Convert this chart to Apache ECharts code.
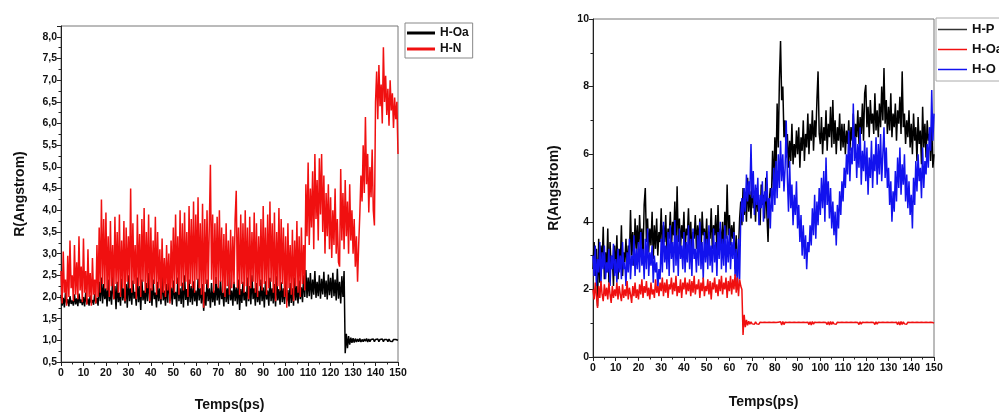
<!DOCTYPE html>
<html><head><meta charset="utf-8">
<script src="https://cdn.jsdelivr.net/npm/echarts@6/dist/echarts.min.js"></script>
<style>html,body{margin:0;padding:0;background:#fff}#c{width:999px;height:417px}</style>
</head><body><div id="c"></div><script>
// sampling step of the time axis (ps)
const STEP = 0.5;
const xTicks = [0,10,20,30,40,50,60,70,80,90,100,110,120,130,140,150];

// Left chart: H-Oa (black)
const leftOa = [
2.05,1.8,1.98,1.76,2.1,1.85,1.95,1.78,2.02,1.84,1.92,1.8,2.06,1.83,1.97,1.79,2.08,1.86,1.94,1.81,
2.0,1.78,2.1,1.84,1.96,1.8,2.04,1.86,1.93,1.82,2.07,1.85,1.98,1.8,2.35,1.9,2.45,1.85,2.3,1.95,
2.2,1.78,2.4,1.9,2.15,1.82,2.5,1.95,2.25,1.72,2.35,1.88,2.1,1.8,2.42,1.92,2.2,1.85,2.3,1.75,
2.5,1.9,2.2,1.82,2.38,1.96,2.12,1.8,2.45,1.88,2.25,1.7,2.4,1.92,2.15,1.84,2.32,1.9,2.55,1.86,
2.2,1.8,2.4,1.95,2.1,1.76,2.35,1.9,2.2,1.83,2.48,1.92,2.15,1.8,2.3,1.87,2.56,1.9,2.22,1.82,
2.38,1.95,2.12,1.78,2.45,1.9,2.2,1.84,2.33,1.76,2.5,1.93,2.18,1.8,2.4,1.88,2.25,1.82,2.36,1.9,
2.15,1.79,2.42,1.92,2.2,1.85,2.3,1.68,2.12,1.8,2.4,1.9,2.2,1.75,2.32,1.88,2.15,1.8,2.46,1.92,
2.24,1.82,2.38,1.95,2.1,1.78,2.42,1.88,2.2,1.84,2.52,1.92,2.15,1.8,2.35,1.9,2.22,1.83,2.4,1.7,
2.18,1.86,2.35,1.92,2.12,1.78,2.45,1.9,2.25,1.83,2.5,1.95,2.2,1.8,2.32,1.88,2.14,1.82,2.4,1.9,
2.22,1.76,2.36,1.94,2.15,1.8,2.44,1.9,2.2,1.85,2.3,1.78,2.48,1.92,2.18,1.82,2.34,1.88,2.2,1.84,
2.4,1.9,2.16,1.78,2.32,1.86,2.2,1.8,2.45,1.92,2.25,1.85,2.38,1.95,2.22,1.88,2.5,2.0,2.62,1.98,
2.45,2.02,2.55,1.95,2.4,2.05,2.6,1.98,2.35,2.02,2.5,1.96,2.42,2.06,2.58,2.0,2.38,1.94,2.52,2.04,
2.44,1.98,2.56,2.02,2.4,1.92,2.65,1.96,2.35,1.85,2.48,2.0,2.6,0.7,1.15,0.82,1.1,0.9,1.06,0.94,
1.05,0.95,1.04,0.96,1.03,0.97,1.04,0.96,1.02,0.97,1.03,0.98,1.04,0.96,1.03,0.97,1.02,0.98,1.03,0.97,
1.02,0.98,1.03,0.97,1.02,0.98,1.03,0.97,1.02,0.98,1.02,0.97,1.03,0.98,1.02,0.97,1.02,0.98,1.02,0.98,
1.0];

// Left chart: H-N (red)
const leftN = [
2.6,1.85,3.05,2.1,2.4,1.8,2.95,2.0,3.3,2.2,2.5,1.9,3.2,2.05,2.8,1.95,3.4,2.15,2.7,1.88,
3.35,2.1,2.6,1.82,3.1,2.0,2.55,1.8,2.9,2.05,2.4,1.85,3.2,2.0,3.6,2.1,4.25,2.3,3.8,2.2,
3.95,2.15,3.4,2.0,3.75,2.25,3.2,1.95,3.85,2.3,3.5,2.1,3.9,2.0,3.3,2.2,3.75,1.9,3.6,2.35,
3.4,2.2,4.5,2.1,3.7,2.3,3.2,1.95,3.9,2.25,3.45,2.0,3.8,2.35,4.05,2.1,3.5,2.2,3.9,1.9,
3.6,2.15,3.3,2.3,3.85,2.05,3.5,2.2,3.1,1.95,3.35,2.1,2.9,2.0,3.2,2.15,3.0,1.85,3.3,2.2,
3.6,2.1,3.9,2.3,3.4,2.05,4.0,2.25,3.7,2.15,3.95,2.35,3.5,2.0,4.1,2.3,3.8,2.2,4.2,2.1,
3.9,2.4,4.3,2.2,3.7,2.05,4.15,1.75,3.8,2.3,4.0,2.2,3.6,5.05,2.4,3.9,2.1,3.7,2.3,3.85,
2.2,4.0,2.35,3.6,2.1,3.45,2.0,3.7,2.25,3.3,2.05,3.55,2.2,3.4,2.3,3.8,4.45,2.2,3.6,2.05,
3.9,2.3,3.7,2.1,4.0,2.25,3.6,1.95,3.85,2.2,3.5,2.35,3.95,2.1,3.7,2.0,3.4,2.25,3.8,2.15,
4.1,2.3,3.6,2.05,3.9,2.2,4.2,2.35,3.7,2.1,3.95,1.9,3.5,2.25,4.05,2.15,3.8,2.3,3.6,2.0,
3.4,1.75,3.7,2.2,3.2,2.05,3.55,1.9,3.3,2.25,3.75,2.1,3.4,2.0,3.6,2.3,3.2,2.15,4.6,3.4,
5.1,3.2,4.5,3.6,4.9,3.1,5.3,3.8,4.7,3.3,5.2,3.9,5.3,3.5,4.8,3.0,4.4,3.4,4.6,3.1,
4.3,2.9,4.0,3.2,4.5,3.0,3.8,2.8,2.7,4.95,3.3,4.4,3.1,4.7,3.4,4.2,3.0,4.6,3.3,4.0,
3.0,3.8,2.7,3.4,2.35,3.2,3.9,4.8,4.2,5.5,4.4,6.15,4.6,5.3,3.95,5.0,4.3,5.4,4.0,3.65,
6.5,7.2,6.1,7.35,6.4,6.9,6.0,7.76,6.5,7.1,6.2,6.8,5.95,7.0,6.3,6.7,5.9,6.6,6.1,6.5,
5.3];

// Right chart: H-P (black)
const rightP = [
2.6,3.4,2.4,3.2,1.5,3.5,2.2,3.3,2.7,3.85,2.3,3.1,2.5,3.8,2.2,3.4,2.6,3.0,2.1,3.3,
2.5,3.6,2.3,3.2,2.7,3.9,2.4,3.1,2.8,3.5,2.6,3.3,2.9,4.35,3.0,3.7,2.7,4.1,3.2,3.9,
3.0,4.2,3.3,3.8,2.9,4.5,5.0,3.4,4.1,3.1,3.8,3.3,4.3,2.9,3.9,3.2,4.1,3.0,3.7,3.4,
4.4,3.1,3.9,3.4,4.2,3.0,3.8,3.5,4.3,3.2,4.0,3.6,4.6,3.3,5.05,3.4,4.1,3.2,3.9,3.5,
4.3,3.1,3.8,3.6,4.4,3.3,4.0,3.0,3.7,3.5,4.2,3.2,3.9,3.4,4.1,2.9,4.3,3.6,3.8,3.3,
4.1,3.0,3.7,3.5,4.4,3.2,3.9,3.6,4.2,3.1,4.5,3.4,3.8,3.3,4.0,3.0,4.3,3.5,5.1,3.6,
4.2,3.3,3.9,3.5,4.0,2.6,3.6,2.4,3.2,4.1,4.6,3.9,5.0,4.2,4.8,4.0,5.3,4.3,4.9,4.1,
5.2,4.4,4.8,4.0,5.0,4.3,4.6,3.9,5.1,4.5,4.8,4.1,5.3,4.2,3.4,4.6,5.0,4.7,6.1,5.0,
6.5,5.5,7.5,6.2,8.2,9.35,7.6,8.0,6.5,7.0,5.9,6.6,5.6,6.4,5.8,6.9,5.7,6.3,5.9,6.7,
6.0,6.8,5.6,6.5,6.1,7.0,5.8,6.6,6.2,7.2,6.0,6.9,6.4,7.3,6.1,7.0,6.5,7.6,8.45,6.6,
6.3,7.1,6.0,6.8,6.4,7.3,6.1,6.9,6.5,7.4,6.2,7.6,6.3,7.0,6.0,6.8,6.4,7.2,6.1,6.9,
6.2,6.9,6.0,6.7,6.3,7.0,6.1,6.8,6.4,7.2,6.2,6.9,6.5,7.3,6.3,7.1,6.6,7.5,6.4,7.8,
8.05,6.8,7.4,6.5,7.6,6.9,7.2,6.6,7.8,6.7,7.3,6.5,7.5,6.8,8.0,7.0,8.55,6.9,7.6,6.6,
7.4,6.7,7.8,6.5,7.2,6.8,7.5,6.4,7.3,6.9,7.7,6.6,8.45,6.8,7.2,6.3,7.0,6.5,7.3,6.2,
6.9,6.0,7.2,6.4,6.8,5.8,7.1,6.3,6.7,5.7,7.4,6.2,6.9,5.9,7.0,6.4,6.6,5.8,6.9,5.6,
6.0];

// Right chart: H-O (blue)
const rightO = [
3.0,2.4,3.3,2.1,2.9,2.5,3.4,2.2,3.1,2.6,3.3,2.3,2.8,2.5,3.2,2.1,3.0,2.6,3.35,2.4,
2.9,2.2,3.2,2.5,3.0,2.3,3.4,2.6,2.8,2.1,3.1,2.5,3.5,2.3,3.0,2.7,3.6,2.4,3.2,2.6,
3.4,2.5,3.7,2.7,3.2,2.3,3.5,2.6,3.8,2.4,3.1,2.7,3.3,2.2,3.0,2.5,2.8,2.0,2.6,2.3,
3.5,2.5,4.0,2.8,3.3,2.6,3.7,2.4,3.9,2.9,3.4,2.5,4.05,2.7,3.6,2.4,3.8,2.9,3.3,2.6,
3.7,2.5,3.4,2.8,3.9,2.6,3.5,2.4,3.8,2.9,3.2,2.5,3.6,2.7,4.0,2.6,3.4,2.3,3.7,2.8,
3.5,2.6,3.9,2.7,3.3,2.5,3.8,2.8,3.4,2.4,3.7,2.9,4.0,2.6,3.5,2.7,3.9,2.5,3.6,2.8,
3.8,2.6,3.4,2.9,3.7,2.4,3.2,2.0,3.5,2.3,4.2,4.7,4.0,5.0,4.3,5.4,4.6,5.2,4.8,6.3,
4.7,5.5,4.2,5.1,4.5,5.3,3.9,4.8,4.4,5.2,4.0,4.9,4.6,5.5,4.1,4.7,3.8,5.0,4.3,5.6,
4.5,5.8,4.7,6.0,5.0,6.4,5.2,6.0,4.9,5.6,7.0,5.3,4.3,5.8,4.4,5.1,3.9,4.8,4.2,5.2,
3.8,4.5,3.4,4.2,3.0,3.9,2.9,3.6,2.6,3.4,3.1,3.9,3.3,4.4,3.6,4.8,3.5,4.6,3.9,5.0,
4.2,5.3,4.4,5.5,4.0,5.9,4.5,5.2,4.1,5.0,3.8,4.6,3.6,4.3,3.3,4.5,3.8,4.9,4.2,5.2,
4.6,5.6,5.0,6.0,5.4,6.7,5.2,6.2,5.7,7.5,5.8,6.5,5.3,6.3,5.6,6.8,5.1,6.1,5.5,6.4,
5.2,6.2,4.8,5.9,5.3,6.4,5.0,6.0,5.5,6.5,5.1,6.3,5.4,6.6,5.2,6.0,6.8,5.3,6.2,5.0,
5.6,4.5,5.2,4.0,4.9,4.3,5.5,4.6,5.9,5.0,6.2,4.8,5.7,5.1,6.0,4.6,5.4,4.4,5.2,4.2,
4.8,3.8,5.3,4.5,5.8,4.9,6.0,5.2,5.6,4.7,6.2,5.0,5.8,5.4,6.3,5.6,6.8,6.1,7.9,6.4,
7.2];

// Right chart: H-Oa (red)
const rightOa = [
2.0,1.7,2.2,1.8,1.45,2.1,1.75,2.25,1.85,1.65,2.15,1.8,2.05,1.7,2.2,1.85,1.6,2.1,1.75,2.0,
1.8,2.2,1.7,2.1,1.85,1.65,2.15,1.75,2.0,1.8,2.25,1.7,2.05,1.85,1.6,2.1,1.8,2.2,1.75,2.0,
1.7,2.15,1.85,2.3,1.75,2.1,1.9,2.25,1.8,2.05,1.7,2.2,1.85,2.0,1.75,2.3,1.9,2.1,1.8,2.2,
1.95,2.35,1.8,2.2,1.9,2.3,1.75,2.15,2.0,2.35,1.85,2.2,1.95,2.4,1.8,2.1,1.9,2.3,1.75,2.2,
2.0,2.35,1.85,2.2,1.95,2.3,1.8,2.25,1.9,2.4,1.85,2.15,2.0,2.3,1.75,2.2,1.95,2.35,1.8,2.1,
1.95,2.3,1.85,2.25,1.7,2.2,2.0,2.35,1.9,2.15,1.8,2.3,1.95,2.4,1.85,2.2,2.0,2.35,1.75,2.25,
1.95,2.4,1.85,2.3,2.0,2.45,1.9,2.35,1.8,2.3,2.1,2.0,0.65,1.25,0.88,1.1,0.94,1.06,0.97,1.04,
0.98,1.03,0.97,1.04,0.98,1.02,0.97,1.03,0.98,1.02,0.97,1.03,0.98,1.02,0.97,1.03,0.98,1.02,0.97,1.03,
0.98,1.02,0.97,1.03,0.98,1.04,0.95,1.05,0.96,1.03,0.98,1.02,0.97,1.03,0.98,1.02,0.97,1.03,0.98,1.02,
0.97,1.03,0.98,1.02,0.97,1.03,0.98,1.02,0.97,1.03,0.96,1.04,0.95,1.05,0.97,1.03,0.98,1.02,0.97,1.03,
0.98,1.02,0.97,1.03,0.98,1.02,0.96,1.04,0.95,1.05,0.96,1.04,0.98,1.02,0.97,1.03,0.98,1.02,0.97,1.03,
0.98,1.02,0.97,1.03,0.98,1.02,0.97,1.03,0.98,1.02,0.97,1.03,0.98,1.02,0.96,1.04,0.97,1.03,0.98,1.02,
0.97,1.03,0.98,1.02,0.97,1.03,0.98,1.02,0.96,1.04,0.97,1.03,0.98,1.02,0.97,1.03,0.98,1.02,0.97,1.03,
0.98,1.02,0.97,1.03,0.98,1.02,0.97,1.03,0.96,1.04,0.95,1.05,0.96,1.04,0.98,1.02,0.97,1.03,0.98,1.02,
0.97,1.03,0.98,1.02,0.97,1.03,0.98,1.02,0.97,1.03,0.98,1.02,0.97,1.03,0.98,1.02,0.97,1.03,0.98,1.02,
1.0];

const RED = '#f01010', BLUE = '#1212ee', BLACK = '#000000';
const NARROW = '"Liberation Sans Narrow","Liberation Sans",Arial,sans-serif';
const SANS = '"Liberation Sans",Arial,sans-serif';

function pairs(arr) { return arr.map((v, i) => [i * STEP, v]); }
const comma = v => v.toFixed(1).replace('.', ',');

function xAxisCfg(gi, gap) {
  return {
    type: 'value', gridIndex: gi, min: xTicks[0], max: xTicks[xTicks.length - 1], interval: 10,
    name: 'Temps(ps)', nameLocation: 'middle', nameGap: gap,
    nameTextStyle: { fontFamily: NARROW, fontWeight: 'bold', fontSize: 14, color: '#111' },
    axisLine: { show: true, onZero: false, lineStyle: { color: '#222', width: 1 } },
    axisTick: { show: true, inside: false, length: 4, lineStyle: { color: '#222' } },
    minorTick: { show: true, splitNumber: 2, length: 2.5, lineStyle: { color: '#222' } },
    splitLine: { show: false },
    axisLabel: { fontFamily: NARROW, fontWeight: 'bold', fontSize: 10.5, color: '#111', margin: 6 }
  };
}
function yAxisCfg(gi, min, max, interval, fmt, gap, showMax) {
  return {
    type: 'value', gridIndex: gi, min: min, max: max, interval: interval,
    name: 'R(Angstrom)', nameLocation: 'middle', nameGap: gap,
    nameTextStyle: { fontFamily: SANS, fontWeight: 'bold', fontSize: 14, color: '#111' },
    axisLine: { show: true, onZero: false, lineStyle: { color: '#222', width: 1 } },
    axisTick: { show: true, inside: false, length: 4, lineStyle: { color: '#222' } },
    minorTick: { show: true, splitNumber: 2, length: 2.5, lineStyle: { color: '#222' } },
    splitLine: { show: false },
    axisLabel: { fontFamily: NARROW, fontWeight: 'bold', fontSize: 10.5, color: '#111', margin: 4,
                 formatter: fmt, showMaxLabel: showMax }
  };
}
function line(name, data, color, xi, yi, z) {
  return { type: 'line', name: name, xAxisIndex: xi, yAxisIndex: yi, data: pairs(data),
           symbol: 'none', showSymbol: false, z: z,
           lineStyle: { color: color, width: 1.5 }, itemStyle: { color: color } };
}

const chart = echarts.init(document.getElementById('c'), null, { renderer: 'canvas' });
chart.setOption({
  animation: false,
  backgroundColor: '#ffffff',
  grid: [
    { left: 61, top: 26, width: 337, height: 339, show: true, borderColor: '#777', borderWidth: 1, backgroundColor: 'transparent' },
    { left: 593, top: 19, width: 341, height: 338, show: true, borderColor: '#777', borderWidth: 1, backgroundColor: 'transparent' }
  ],
  xAxis: [xAxisCfg(0, 36), xAxisCfg(1, 38)],
  yAxis: [
    yAxisCfg(0, 0.5, 8.25, 0.5, comma, 34, false),
    yAxisCfg(1, 0, 10, 2, v => String(v), 32, true)
  ],
  legend: [
    { orient: 'vertical', left: 405, top: 23, selectedMode: false,
      itemWidth: 28, itemHeight: 3, itemGap: 4, padding: [4, 4, 3, 2],
      borderColor: '#888', borderWidth: 1,
      textStyle: { fontFamily: NARROW, fontWeight: 'bold', fontSize: 12, color: '#111' },
      data: [
        { name: 'H-Oa', icon: 'rect', itemStyle: { color: BLACK } },
        { name: 'H-N', icon: 'rect', itemStyle: { color: RED } }
      ] },
    { orient: 'vertical', left: 936, top: 18, selectedMode: false,
      itemWidth: 29, itemHeight: 1.5, itemGap: 7, padding: [5, 4, 5, 2],
      borderColor: '#aaa', borderWidth: 1,
      textStyle: { fontFamily: NARROW, fontWeight: 'bold', fontSize: 13, color: '#111' },
      data: [
        { name: 'H-P', icon: 'rect', itemStyle: { color: '#333' } },
        { name: 'H-Oa', icon: 'rect', itemStyle: { color: RED } },
        { name: 'H-O', icon: 'rect', itemStyle: { color: BLUE } }
      ] }
  ],
  series: [
    line('H-Oa', leftOa, BLACK, 0, 0, 2),
    line('H-N', leftN, RED, 0, 0, 3),
    line('H-P', rightP, BLACK, 1, 1, 2),
    line('H-O', rightO, BLUE, 1, 1, 3),
    line('H-Oa', rightOa, RED, 1, 1, 4)
  ]
});
</script></body></html>
